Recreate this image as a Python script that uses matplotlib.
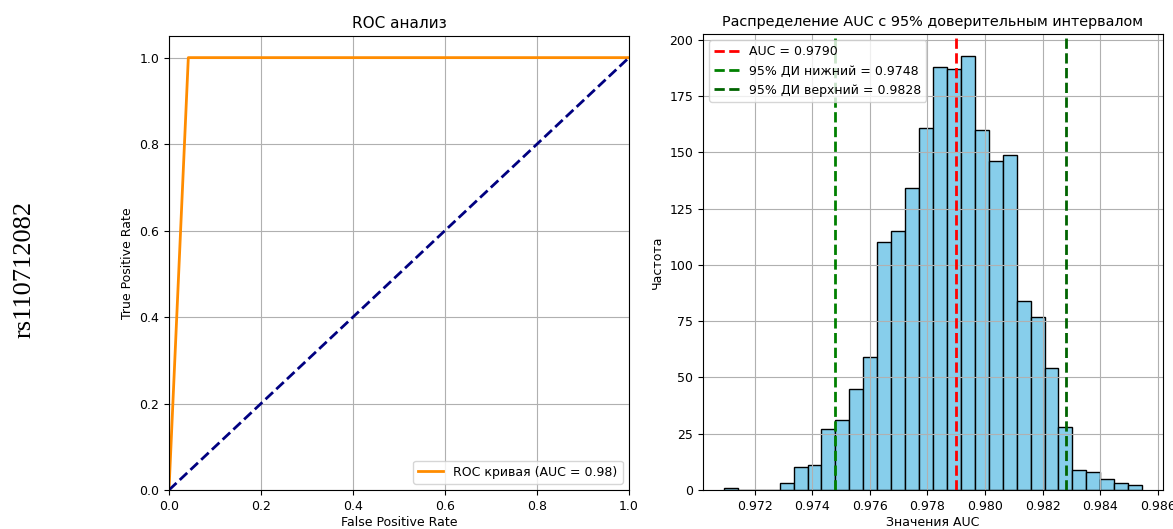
import numpy as np
import matplotlib
matplotlib.use("Agg")
import matplotlib.pyplot as plt

# ROC curve points
fpr = [0.0, 0.042, 1.0]
tpr = [0.0, 1.0, 1.0]
roc_auc = 0.98

# bootstrap AUC histogram (30 bins)
auc_min, auc_max = 0.97093, 0.98546
auc_counts = [1, 0, 0, 0, 3, 10, 11, 27, 31, 45,
              59, 110, 115, 134, 161, 188, 187, 193, 160, 146,
              149, 84, 77, 54, 28, 9, 8, 5, 3, 2]
auc_mean = 0.9790
ci_low = 0.9748
ci_high = 0.9828

W, H = 1173, 529
fig = plt.figure(figsize=(W / 100, H / 100), dpi=100)

# ---------------------------------------------------------------------------
# ROC
# ---------------------------------------------------------------------------
ax1 = fig.add_axes([169 / W, 39 / H, 460 / W, 454 / H])
ax1.plot(fpr, tpr, color="darkorange", lw=2, label=f"ROC кривая (AUC = {roc_auc:.2f})")
ax1.plot([0, 1], [0, 1], color="navy", lw=2, ls="--")
ax1.set_xlim(0, 1)
ax1.set_ylim(0, 1.05)
ax1.set_xlabel("False Positive Rate", fontsize=9, labelpad=2)
ax1.set_ylabel("True Positive Rate", fontsize=9)
ax1.set_title("ROC анализ", fontsize=11)
ax1.tick_params(labelsize=9)
ax1.grid(True)
ax1.legend(loc="lower right", fontsize=9)

# ---------------------------------------------------------------------------
# AUC distribution
# ---------------------------------------------------------------------------
edges = np.linspace(auc_min, auc_max, len(auc_counts) + 1)
centers = (edges[:-1] + edges[1:]) / 2
ax2 = fig.add_axes([703 / W, 39 / H, 460 / W, 456 / H])
ax2.hist(centers, bins=edges, weights=auc_counts, color="skyblue", edgecolor="black")
ax2.axvline(auc_mean, color="red", ls="--", lw=2, label=f"AUC = {auc_mean:.4f}")
ax2.axvline(ci_low, color="green", ls="--", lw=2, label=f"95% ДИ нижний = {ci_low:.4f}")
ax2.axvline(ci_high, color="darkgreen", ls="--", lw=2, label=f"95% ДИ верхний = {ci_high:.4f}")
ax2.set_xlabel("Значения AUC", fontsize=9, labelpad=2)
ax2.set_ylabel("Частота", fontsize=9)
ax2.set_title("Распределение AUC с 95% доверительным интервалом", fontsize=10.4)
ax2.tick_params(labelsize=9)
ax2.grid(True)
ax2.legend(loc="upper left", fontsize=9)

fig.text(25 / W, 1 - 269 / H, "rs110712082", rotation=90, ha="center", va="center",
         family="Liberation Serif", fontsize=19)

fig.savefig("out.png", dpi=100)
